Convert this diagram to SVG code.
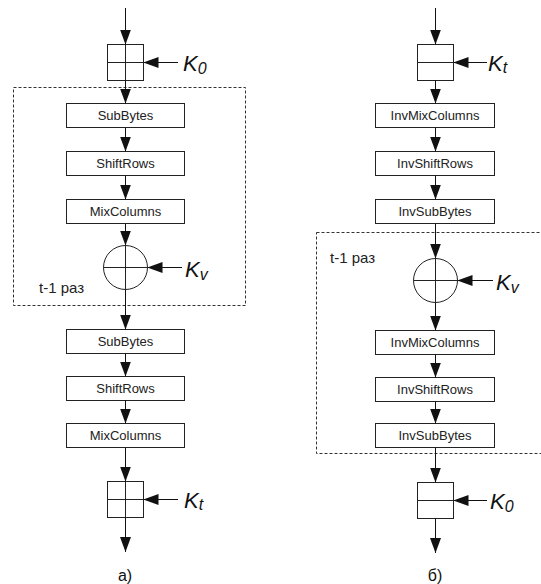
<svg xmlns="http://www.w3.org/2000/svg" width="541" height="584" viewBox="0 0 541 584">
  <style>
    .box { fill: #fff; stroke: #222; stroke-width: 1; }
    .ln { stroke: #222; stroke-width: 1; fill: none; }
    .frame { fill: none; stroke: #333; stroke-width: 1; stroke-dasharray: 3 2; }
    .lbl { font-family: "Liberation Sans", Arial, sans-serif; font-size: 13px; fill: #222; text-anchor: middle; }
    .key { font-family: "Liberation Sans", Arial, sans-serif; font-size: 22px; font-style: italic; fill: #111; }
    .sub { font-size: 16px; }
    .note { font-family: "Liberation Sans", Arial, sans-serif; font-size: 15px; fill: #222; }
    .cap { font-family: "Liberation Sans", Arial, sans-serif; font-size: 16px; fill: #111; text-anchor: middle; }
    .arr { stroke: #111; stroke-width: 1; fill: none; marker-end: url(#head); }
  </style>
  <defs>
    <marker id="head" markerUnits="userSpaceOnUse" markerWidth="15" markerHeight="11" refX="15" refY="5.5" orient="auto">
      <path d="M0,0 L15,5.5 L0,11 z" fill="#111"/>
    </marker>
  </defs>

  <!-- loop frames -->
  <rect class="frame" x="13.5" y="87.5" width="232" height="218"/>
  <rect class="frame" x="316.5" y="232.5" width="230" height="221"/>

  <!-- ===== a) encryption ===== -->
  <g id="a-key0">
    <rect class="box" x="107.5" y="44.5" width="36" height="36"/>
    <line class="ln" x1="125.5" y1="44.5" x2="125.5" y2="80.5"/>
    <line class="ln" x1="107.5" y1="62.5" x2="143.5" y2="62.5"/>
    <text class="key" x="183" y="70.5">K<tspan class="sub" dy="3">0</tspan></text>
  </g>
  <g id="a-subbytes1"><rect class="box" x="66.5" y="103.5" width="118" height="24"/><text class="lbl" x="125.5" y="120">SubBytes</text></g>
  <g id="a-shiftrows1"><rect class="box" x="66.5" y="151.5" width="118" height="24"/><text class="lbl" x="125.5" y="168">ShiftRows</text></g>
  <g id="a-mixcolumns1"><rect class="box" x="66.5" y="199.5" width="118" height="24"/><text class="lbl" x="125.5" y="216">MixColumns</text></g>
  <g id="a-xor">
    <circle class="box" cx="125.5" cy="267.5" r="22"/>
    <line class="ln" x1="125.5" y1="245.5" x2="125.5" y2="289.5"/>
    <line class="ln" x1="103.5" y1="267.5" x2="147.5" y2="267.5"/>
    <text class="key" x="185" y="277">K<tspan class="sub" dy="3">v</tspan></text>
  </g>
  <g id="a-loop-note"><text class="note" x="39" y="293">t-1 раз</text></g>
  <g id="a-subbytes2"><rect class="box" x="66.5" y="329.5" width="118" height="24"/><text class="lbl" x="125.5" y="346">SubBytes</text></g>
  <g id="a-shiftrows2"><rect class="box" x="66.5" y="376.5" width="118" height="24"/><text class="lbl" x="125.5" y="393">ShiftRows</text></g>
  <g id="a-mixcolumns2"><rect class="box" x="66.5" y="423.5" width="118" height="24"/><text class="lbl" x="125.5" y="440">MixColumns</text></g>
  <g id="a-keyt">
    <rect class="box" x="107.5" y="481.5" width="36" height="36"/>
    <line class="ln" x1="125.5" y1="481.5" x2="125.5" y2="517.5"/>
    <line class="ln" x1="107.5" y1="499.5" x2="143.5" y2="499.5"/>
    <text class="key" x="184" y="507.5">K<tspan class="sub" dy="2">t</tspan></text>
  </g>
  <g id="a-caption"><text class="cap" x="125" y="581">а)</text></g>

  <!-- ===== б) decryption ===== -->
  <g id="b-keyt">
    <rect class="box" x="417.5" y="44.5" width="36" height="36"/>
    <line class="ln" x1="417.5" y1="62.5" x2="453.5" y2="62.5"/>
    <text class="key" x="488" y="70.5">K<tspan class="sub" dy="2">t</tspan></text>
  </g>
  <g id="b-invmix1"><rect class="box" x="375.5" y="103.5" width="119" height="24"/><text class="lbl" x="435" y="120">InvMixColumns</text></g>
  <g id="b-invshift1"><rect class="box" x="375.5" y="151.5" width="119" height="24"/><text class="lbl" x="435" y="168">InvShiftRows</text></g>
  <g id="b-invsub1"><rect class="box" x="375.5" y="199.5" width="119" height="24"/><text class="lbl" x="435" y="216">InvSubBytes</text></g>
  <g id="b-xor">
    <circle class="box" cx="435.5" cy="280.5" r="22"/>
    <line class="ln" x1="435.5" y1="258.5" x2="435.5" y2="302.5"/>
    <line class="ln" x1="413.5" y1="280.5" x2="457.5" y2="280.5"/>
    <text class="key" x="496" y="290">K<tspan class="sub" dy="3">v</tspan></text>
  </g>
  <g id="b-loop-note"><text class="note" x="330" y="263">t-1 раз</text></g>
  <g id="b-invmix2"><rect class="box" x="375.5" y="330.5" width="119" height="24"/><text class="lbl" x="435" y="347">InvMixColumns</text></g>
  <g id="b-invshift2"><rect class="box" x="375.5" y="377.5" width="119" height="24"/><text class="lbl" x="435" y="394">InvShiftRows</text></g>
  <g id="b-invsub2"><rect class="box" x="375.5" y="423.5" width="119" height="24"/><text class="lbl" x="435" y="440">InvSubBytes</text></g>
  <g id="b-key0">
    <rect class="box" x="417.5" y="482.5" width="36" height="36"/>
    <line class="ln" x1="417.5" y1="500.5" x2="453.5" y2="500.5"/>
    <text class="key" x="490" y="508.5">K<tspan class="sub" dy="3">0</tspan></text>
  </g>
  <g id="b-caption"><text class="cap" x="435" y="581">б)</text></g>

  <!-- connectors -->
  <g id="connectors">
    <!-- a) -->
    <line class="arr" x1="125.5" y1="8" x2="125.5" y2="44.5"/>
    <line class="arr" x1="178" y1="62.5" x2="143.5" y2="62.5"/>
    <line class="arr" x1="125.5" y1="80.5" x2="125.5" y2="103.5"/>
    <line class="arr" x1="125.5" y1="127.5" x2="125.5" y2="151.5"/>
    <line class="arr" x1="125.5" y1="175.5" x2="125.5" y2="199.5"/>
    <line class="arr" x1="125.5" y1="223.5" x2="125.5" y2="245.5"/>
    <line class="arr" x1="182" y1="267.5" x2="147.5" y2="267.5"/>
    <line class="arr" x1="125.5" y1="289.5" x2="125.5" y2="329.5"/>
    <line class="arr" x1="125.5" y1="353.5" x2="125.5" y2="376.5"/>
    <line class="arr" x1="125.5" y1="400.5" x2="125.5" y2="423.5"/>
    <line class="arr" x1="125.5" y1="447.5" x2="125.5" y2="481.5"/>
    <line class="arr" x1="178" y1="499.5" x2="143.5" y2="499.5"/>
    <line class="arr" x1="125.5" y1="517.5" x2="125.5" y2="552"/>
    <!-- б) -->
    <line class="arr" x1="435.5" y1="8" x2="435.5" y2="44.5"/>
    <line class="arr" x1="487" y1="62.5" x2="453.5" y2="62.5"/>
    <line class="arr" x1="435.5" y1="80.5" x2="435.5" y2="103.5"/>
    <line class="arr" x1="435.5" y1="127.5" x2="435.5" y2="151.5"/>
    <line class="arr" x1="435.5" y1="175.5" x2="435.5" y2="199.5"/>
    <line class="arr" x1="435.5" y1="223.5" x2="435.5" y2="258.5"/>
    <line class="arr" x1="493" y1="280.5" x2="457.5" y2="280.5"/>
    <line class="arr" x1="435.5" y1="302.5" x2="435.5" y2="330.5"/>
    <line class="arr" x1="435.5" y1="354.5" x2="435.5" y2="377.5"/>
    <line class="arr" x1="435.5" y1="401.5" x2="435.5" y2="423.5"/>
    <line class="arr" x1="435.5" y1="447.5" x2="435.5" y2="482.5"/>
    <line class="arr" x1="487" y1="500.5" x2="453.5" y2="500.5"/>
    <line class="arr" x1="435.5" y1="518.5" x2="435.5" y2="553"/>
  </g>
</svg>
